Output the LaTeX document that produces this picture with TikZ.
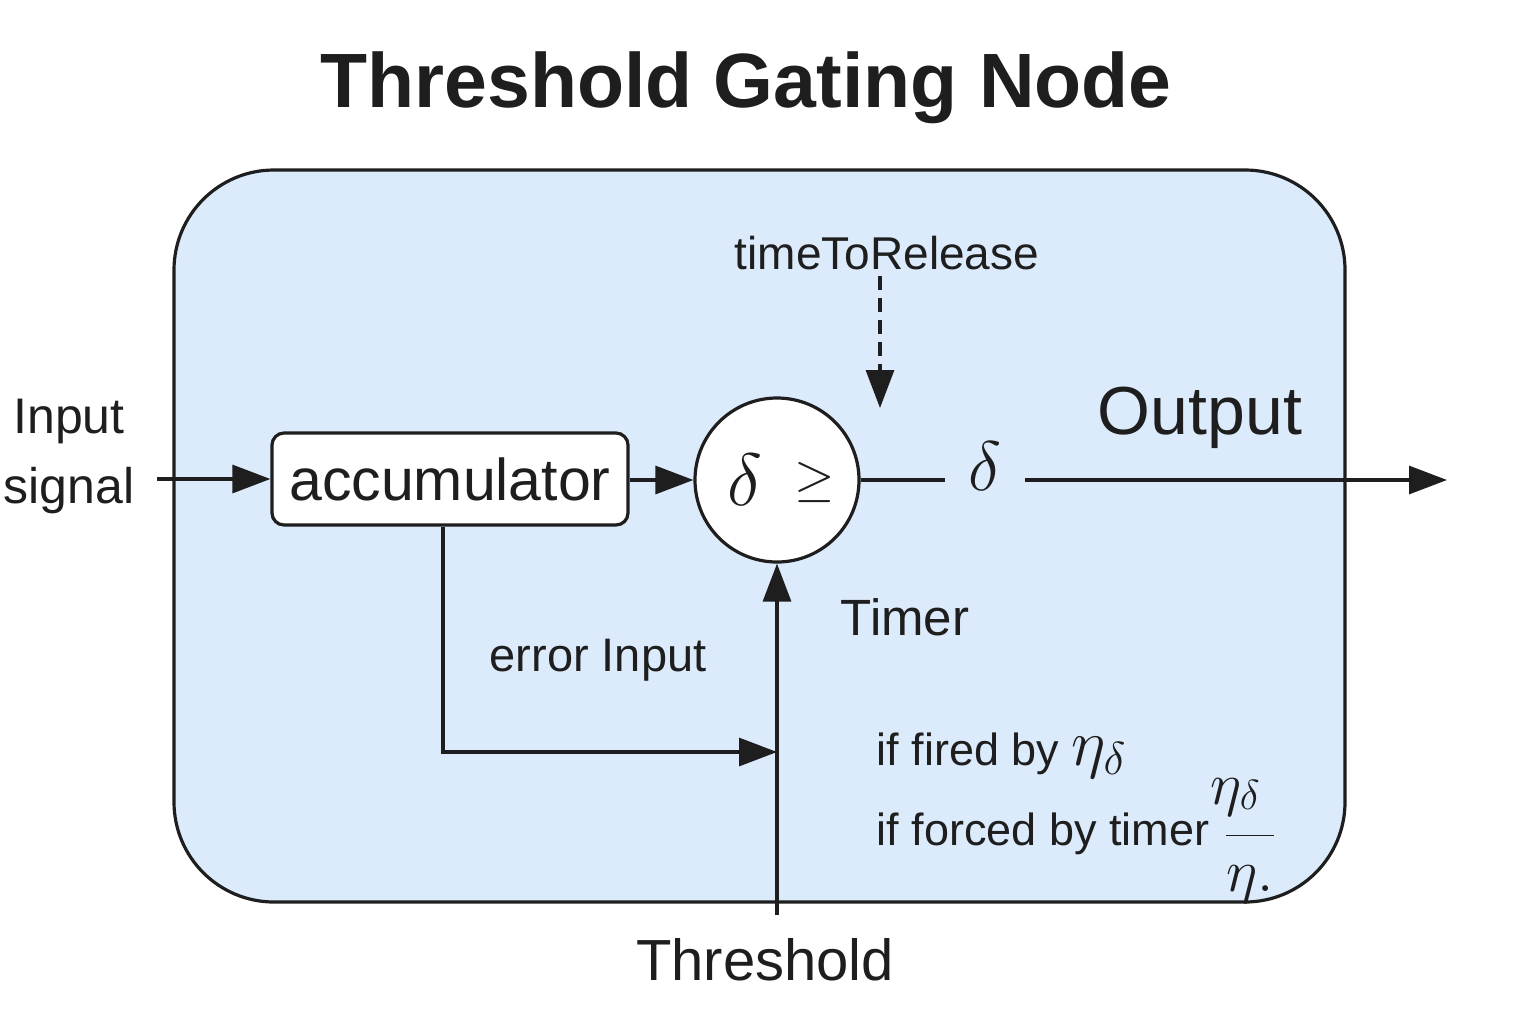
\RequirePackage{fix-cm}
\documentclass[tikz,border=0pt]{standalone}
\usepackage{fontspec}
\setmainfont{Liberation Sans}
\usetikzlibrary{arrows.meta}
\definecolor{panel}{RGB}{220,235,252}
\definecolor{ink}{RGB}{30,30,30}
\newcommand{\fsz}[1]{\fontsize{#1}{1.2\dimexpr #1pt\relax}\selectfont}
\begin{document}
\begin{tikzpicture}[x=0.5pt,y=-0.5pt,line width=1.6pt,draw=ink,text=ink,
  arr/.style={-{Triangle[length=19pt,width=14pt]}},
  lbl/.style={inner sep=0pt},
  ]
\useasboundingbox (0,0) rectangle (1536,1024);
\node[lbl,font=\fsz{38.5}\bfseries] (title) at (746,88) {Threshold Gating Node};
\node[draw,fill=panel,rounded corners=50pt,minimum width=585.5pt,minimum height=366pt] (panel) at (759.5,536) {};
\node[draw,fill=white,rounded corners=6pt,minimum width=178pt,minimum height=46pt,font=\fsz{29.5}] (acc) at (450,479) {accumulator};
\node[draw,fill=white,circle,minimum size=82pt,inner sep=0pt,font=\fsz{37}] (gate) at (777,480) {\hspace{4pt}$\delta$\hspace{16pt}\raisebox{5pt}{\fsz{26}$\geq$}};
\node[font=\fsz{35},inner xsep=11pt,inner ysep=0pt] (dout) at (985,466) {$\delta$};
\node[lbl,font=\fsz{34}] (out) at (1200,418) {Output};
\node[lbl,font=\fsz{25},align=center] (insig) at (69,456) {Input\\[5pt]signal};
\coordinate (instart) at (157,479);
\coordinate (outend) at (1447,480);
\node[lbl,font=\fsz{23}] (ttr) at (887,253) {timeToRelease};
\coordinate (ttrend) at (880,408);
\node[lbl,font=\fsz{23.5}] (err) at (598,660) {error Input};
\node[lbl,font=\fsz{25.5}] (timer) at (905,617) {Timer};
\node[lbl,font=\fsz{29}] (thr) at (765,960) {Threshold};
\coordinate (thrstart) at (777,915);
\coordinate (errcorner) at (443,752);
\coordinate (errjoin) at (777,752);
\node[lbl,font=\fsz{22.5},anchor=base west] (fired) at (875,765) {if fired by {\fsz{33}$\eta_{\delta}$}};
\node[lbl,font=\fsz{22.5},anchor=base west] (forced) at (875,845) {if forced by timer};
\node[lbl,font=\fsz{30},anchor=base west] (frac) at (1209,850) {\raisebox{23pt}{$\eta$}\hspace{-9pt}$\displaystyle\frac{\scriptstyle\delta}{\eta.}$};
% connectors
\draw[arr] (instart) -- (acc.west |- instart);
\draw[arr] (acc.east |- gate.west) -- (gate.west);
\draw (gate.east) -- (gate.east -| dout.west);
\draw[arr] (dout.east |- gate.east) -- (outend);
\draw[arr,dash pattern=on 7pt off 4pt] (ttr.south -| ttrend) ++(0,4) -- (ttrend);
\draw[arr] (acc.south -| errcorner) -- (errcorner) -- (errjoin);
\draw[arr] (thrstart) -- (gate.south);
\end{tikzpicture}
\end{document}
